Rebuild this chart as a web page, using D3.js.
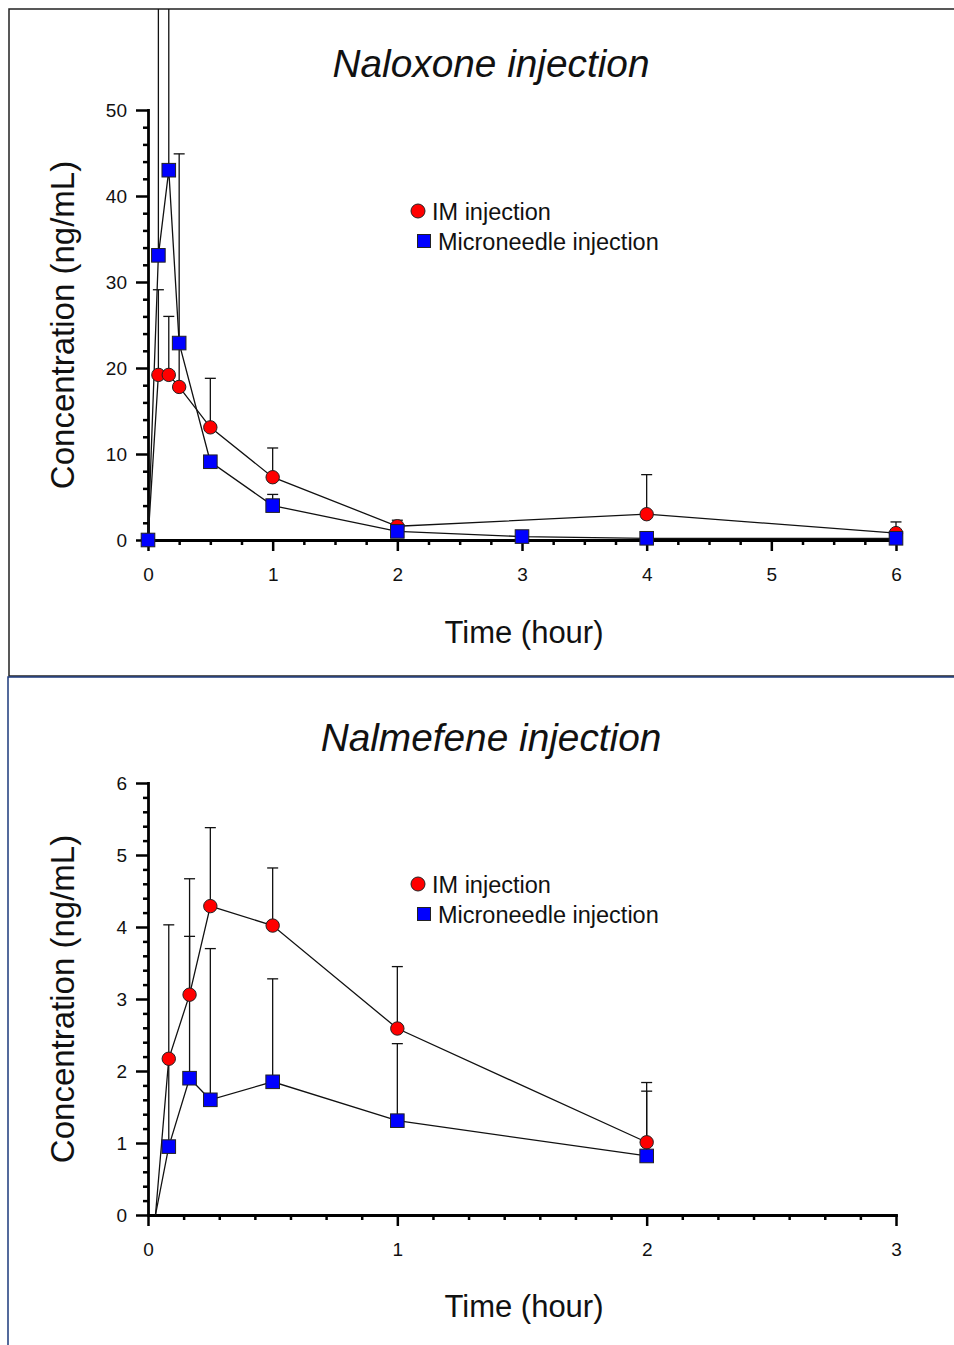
<!DOCTYPE html>
<html>
<head>
<meta charset="utf-8">
<script src="https://cdn.jsdelivr.net/npm/d3@7"></script>
<style>
  body { margin: 0; background: #fff; }
  svg { display: block; }
  text { font-family: "Liberation Sans", Arial, Helvetica, sans-serif; }
</style>
</head>
<body>
<svg id="chart"></svg>
<script>
// ---- Naloxone (top panel) ----
const naloxoneImTime = [0, 0.0833, 0.1667, 0.25, 0.5, 1, 2, 4, 6];
const naloxoneIm = [0, 19.2, 19.2, 17.8, 13.1, 7.3, 1.6, 3.0, 0.8];
const naloxoneImSd = [0, 9.9, 6.8, 5.1, 5.7, 3.4, 0.7, 4.6, 1.3];
const naloxoneMnTime = [0, 0.0833, 0.1667, 0.25, 0.5, 1, 2, 3, 4, 6];
const naloxoneMn = [0, 33.1, 43.0, 22.9, 9.1, 4.0, 1.0, 0.4, 0.2, 0.2];
const naloxoneMnSd = [0, 45, 40, 22.0, 0, 1.3, 0, 0, 0, 0];
const naloxoneXTicks = [0, 1, 2, 3, 4, 5, 6];
const naloxoneYTicks = [0, 10, 20, 30, 40, 50];

// ---- Nalmefene (bottom panel) ----
const nalmefeneStart = [0.03, 0]; // line starts here, no marker
const nalmefeneTime = [0.0833, 0.1667, 0.25, 0.5, 1, 2];
const nalmefeneIm = [2.17, 3.06, 4.29, 4.02, 2.59, 1.01];
const nalmefeneImSd = [1.86, 1.61, 1.09, 0.80, 0.86, 0.83];
const nalmefeneMn = [0.95, 1.90, 1.60, 1.85, 1.31, 0.82];
const nalmefeneMnSd = [1.22, 1.97, 2.10, 1.43, 1.07, 0.90];
const nalmefeneXTicks = [0, 1, 2, 3];
const nalmefeneYTicks = [0, 1, 2, 3, 4, 5, 6];

const seriesNames = ["IM injection", "Microneedle injection"];

const W = 954, H = 1345;
const svg = d3.select("#chart").attr("width", W).attr("height", H);

function drawPanel(opts) {
  const g = svg.append("g");

  // clip so bars running off the top stop at the frame
  const clipId = "clip-" + opts.id;
  svg.append("defs").append("clipPath").attr("id", clipId)
    .append("rect")
    .attr("x", opts.frame.x).attr("y", opts.frame.y)
    .attr("width", opts.frame.w).attr("height", opts.frame.h);

  g.append("rect")
    .attr("x", opts.frame.x).attr("y", opts.frame.y)
    .attr("width", opts.frame.w).attr("height", opts.frame.h)
    .attr("fill", "none")
    .attr("stroke", opts.frameColor)
    .attr("stroke-width", 1.5);

  const x = d3.scaleLinear().domain(opts.xDomain).range([148, 896]);
  const y = d3.scaleLinear().domain(opts.yDomain).range(opts.yRange);
  const y0 = opts.yRange[0];

  // minor ticks
  g.append("g")
    .attr("transform", `translate(0,${y0})`)
    .call(d3.axisBottom(x).tickValues(opts.xMinor).tickSize(5).tickFormat("").tickSizeOuter(0))
    .call(a => a.select(".domain").remove())
    .selectAll("line").attr("stroke-width", 2.5);
  g.append("g")
    .attr("transform", "translate(148,0)")
    .call(d3.axisLeft(y).tickValues(opts.yMinor).tickSize(5).tickFormat("").tickSizeOuter(0))
    .call(a => a.select(".domain").remove())
    .selectAll("line").attr("stroke-width", 2.5);

  // major axes
  const xa = g.append("g")
    .attr("transform", `translate(0,${y0})`)
    .call(d3.axisBottom(x).tickValues(opts.xTicks).tickSize(11).tickPadding(17).tickSizeOuter(0).tickFormat(d3.format("d")));
  const ya = g.append("g")
    .attr("transform", "translate(148,0)")
    .call(d3.axisLeft(y).tickValues(opts.yTicks).tickSize(12).tickPadding(9).tickSizeOuter(0).tickFormat(d3.format("d")));
  [xa, ya].forEach(a => {
    a.select(".domain").attr("stroke-width", 2.8).attr("stroke-linecap", "square");
    a.selectAll(".tick line").attr("stroke-width", 2.5);
    a.selectAll(".tick text").attr("font-size", 19).attr("fill", "#111")
      .style("font-family", "'Liberation Sans', Arial, sans-serif");
  });

  const plot = g.append("g").attr("clip-path", `url(#${clipId})`);

  const line = d3.line().x(d => x(d[0])).y(d => y(d[1]));
  const series = [
    { t: opts.imTime, v: opts.im, sd: opts.imSd, shape: "circle", color: "#ff0000" },
    { t: opts.mnTime, v: opts.mn, sd: opts.mnSd, shape: "square", color: "#0000ff" }
  ];

  series.forEach(s => {
    let pts = s.t.map((t, i) => [t, s.v[i]]);
    if (opts.start) pts = [opts.start].concat(pts);
    plot.append("path").datum(pts)
      .attr("fill", "none").attr("stroke", "#111").attr("stroke-width", 1.3)
      .attr("d", line);
  });

  // upper error bars
  series.forEach(s => {
    s.t.forEach((t, i) => {
      if (!s.sd[i]) return;
      const cx = x(t), top = y(s.v[i] + s.sd[i]);
      plot.append("line").attr("x1", cx).attr("x2", cx)
        .attr("y1", y(s.v[i])).attr("y2", top)
        .attr("stroke", "#111").attr("stroke-width", 1.3);
      plot.append("line").attr("x1", cx - 5.5).attr("x2", cx + 5.5)
        .attr("y1", top).attr("y2", top)
        .attr("stroke", "#111").attr("stroke-width", 1.3);
    });
  });

  // markers
  series.forEach(s => {
    s.t.forEach((t, i) => {
      if (s.shape === "circle") {
        plot.append("circle").attr("cx", x(t)).attr("cy", y(s.v[i])).attr("r", 6.7)
          .attr("fill", s.color).attr("stroke", "#222").attr("stroke-width", 1);
      } else {
        plot.append("rect").attr("x", x(t) - 6.8).attr("y", y(s.v[i]) - 6.8)
          .attr("width", 13.6).attr("height", 13.6)
          .attr("fill", s.color).attr("stroke", "#222").attr("stroke-width", 1);
      }
    });
  });

  // titles and labels
  g.append("text").attr("x", 491).attr("y", opts.titleY)
    .attr("text-anchor", "middle").attr("font-size", 38.8).attr("font-style", "italic")
    .attr("fill", "#111").text(opts.title);
  g.append("text")
    .attr("transform", `translate(74,${(opts.yRange[0] + opts.yRange[1]) / 2}) rotate(-90)`)
    .attr("text-anchor", "middle").attr("font-size", 33).attr("fill", "#111")
    .text("Concentration (ng/mL)");
  g.append("text").attr("x", 524).attr("y", opts.xLabelY)
    .attr("text-anchor", "middle").attr("font-size", 31).attr("fill", "#111")
    .text("Time (hour)");

  // legend
  const ly = opts.legendY;
  g.append("circle").attr("cx", 418).attr("cy", ly).attr("r", 7)
    .attr("fill", "#ff0000").attr("stroke", "#222").attr("stroke-width", 1);
  g.append("text").attr("x", 432).attr("y", ly + 8.5).attr("font-size", 23.5).attr("fill", "#111")
    .text(seriesNames[0]);
  g.append("rect").attr("x", 417.5).attr("y", ly + 23.5).attr("width", 13).attr("height", 13)
    .attr("fill", "#0000ff").attr("stroke", "#222").attr("stroke-width", 1);
  g.append("text").attr("x", 438).attr("y", ly + 38.5).attr("font-size", 23.5).attr("fill", "#111")
    .text(seriesNames[1]);
}

drawPanel({
  id: "top",
  frame: { x: 9, y: 9, w: 960, h: 667 },
  frameColor: "#222",
  title: "Naloxone injection", titleY: 77, xLabelY: 643, legendY: 211,
  xDomain: [0, 6], yDomain: [0, 50], yRange: [540, 110],
  xTicks: naloxoneXTicks, yTicks: naloxoneYTicks,
  xMinor: d3.range(0, 6.01, 0.25).filter(v => v % 1 !== 0),
  yMinor: d3.range(0, 50.01, 2).filter(v => v % 10 !== 0),
  imTime: naloxoneImTime, im: naloxoneIm, imSd: naloxoneImSd,
  mnTime: naloxoneMnTime, mn: naloxoneMn, mnSd: naloxoneMnSd
});

drawPanel({
  id: "bottom",
  frame: { x: 8, y: 677, w: 960, h: 700 },
  frameColor: "#1d3a7c",
  title: "Nalmefene injection", titleY: 751, xLabelY: 1317, legendY: 884,
  xDomain: [0, 3], yDomain: [0, 6], yRange: [1215, 783],
  xTicks: nalmefeneXTicks, yTicks: nalmefeneYTicks,
  xMinor: d3.range(0, 21).map(i => i / 7).filter((v, i) => i % 7 !== 0),
  yMinor: d3.range(0, 31).map(i => i / 5).filter((v, i) => i % 5 !== 0),
  start: nalmefeneStart,
  imTime: nalmefeneTime, im: nalmefeneIm, imSd: nalmefeneImSd,
  mnTime: nalmefeneTime, mn: nalmefeneMn, mnSd: nalmefeneMnSd
});
</script>
</body>
</html>
